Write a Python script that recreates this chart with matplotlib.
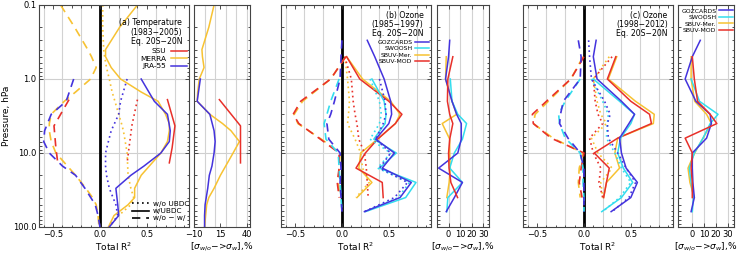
import numpy as np
import matplotlib.pyplot as plt
from matplotlib.lines import Line2D

plt.rcParams['font.family'] = ['DejaVu Sans']

BLUE = '#4433dd'
CYAN = '#33ddee'
YELLOW = '#f7c232'
RED = '#e8302a'

# ---------------- (a) Temperature ----------------
p_merra = [0.1, 0.2, 0.4, 0.5, 0.7, 1, 1.5, 2, 3, 4, 5, 7, 10, 20, 30, 40, 50, 70, 100]
merra_w = [0.40, 0.21, 0.06, 0.06, 0.12, 0.22, 0.44, 0.62, 0.70, 0.74, 0.74, 0.72, 0.65, 0.44, 0.37, 0.37, 0.30, 0.15, 0.09]
merra_wo = [0.03, 0.03, 0.04, 0.05, 0.07, 0.10, 0.13, 0.16, 0.20, 0.23, 0.25, 0.27, 0.29, 0.30, 0.33, 0.36, 0.33, 0.20, 0.10]
merra_d = [-0.42, -0.27, -0.13, -0.09, -0.04, -0.10, -0.26, -0.38, -0.52, -0.54, -0.54, -0.52, -0.47, -0.26, -0.15, -0.08, -0.04, -0.02, -0.01]
merra_pct = [9, 4, -2.5, -2, -0.5, -5, -6.5, -7, 5, 17, 25, 33, 27, 15, 9, 4, 2, 1, 0]

p_jra = [1, 2, 3, 5, 7, 10, 15, 20, 30, 50, 70, 100]
jra_w = [0.44, 0.58, 0.72, 0.75, 0.74, 0.65, 0.47, 0.33, 0.17, 0.19, 0.20, 0.10]
jra_wo = [0.29, 0.22, 0.20, 0.12, 0.09, 0.06, 0.06, 0.07, 0.10, 0.17, 0.19, 0.10]
jra_d = [-0.28, -0.36, -0.52, -0.59, -0.60, -0.54, -0.40, -0.26, -0.16, -0.05, -0.02, 0.0]
jra_pct = [-4, -7, 5, 9, 10, 9, 7, 4.5, 3, 0.5, 0, 0]

p_ssu = [1.9, 4.3, 8.5, 13.6]
ssu_w = [0.72, 0.80, 0.77, 0.74]
ssu_wo = [0.40, 0.34, 0.31, 0.29]
ssu_d = [-0.33, -0.49, -0.47, -0.45]
ssu_pct = [14, 34, 34, 34]

# ---------------- (b) Ozone 1985-1997 ----------------
pb = [0.3, 0.5, 1, 2, 3, 4, 6.5, 10, 16, 25, 40, 62]
b_goz_w = [0.27, 0.35, 0.45, 0.52, 0.53, 0.50, 0.36, 0.56, 0.43, 0.74, 0.62, 0.24]
b_goz_wo = [None, None, 0.40, 0.46, 0.47, 0.44, 0.36, 0.52, 0.40, 0.70, 0.56, 0.24]
b_goz_d = [0.0, -0.01, -0.02, -0.08, -0.12, -0.16, -0.14, -0.02, -0.01, -0.02, -0.01, 0.0]
b_goz_pct = [1, 0, -2.6, 3, 7, 11, 11, 8, -8.6, 12, 5, -2]

b_swo_w = [None, None, 0.32, 0.45, 0.47, 0.46, 0.34, 0.58, 0.40, 0.79, 0.68, 0.25]
b_swo_wo = [None, None, 0.30, 0.40, 0.42, 0.40, 0.30, 0.52, 0.38, 0.72, 0.60, 0.25]
b_swo_d = [None, None, -0.03, -0.12, -0.16, -0.19, -0.17, -0.04, -0.03, -0.02, -0.01, 0.0]
b_swo_pct = [None, None, 1.5, 3, 8, 15.6, 12, 5, 1, 12, -0.6, -1.5]

b_mer_w = [None, 0.05, 0.22, 0.52, 0.62, 0.57, 0.38, 0.20, 0.18, 0.32, 0.16, None]
b_mer_wo = [None, 0.03, 0.06, 0.08, 0.07, 0.06, 0.14, 0.20, 0.22, 0.29, 0.15, None]
b_mer_d = [None, 0.04, -0.12, -0.42, -0.51, -0.47, -0.22, -0.02, -0.03, -0.04, -0.02, None]
b_mer_pct = [None, -2, -2.6, 3, 7, -5.5, 1, 1, 1.5, 0.5, -1.5, None]

b_mod_w = [None, 0.05, 0.19, 0.50, 0.64, 0.57, 0.38, 0.25, 0.15, 0.43, 0.44, None]
b_mod_wo = [None, 0.03, 0.10, 0.12, 0.14, 0.16, 0.18, 0.24, 0.26, 0.27, 0.28, None]
b_mod_d = [None, 0.04, -0.12, -0.44, -0.52, -0.46, -0.23, -0.03, -0.03, -0.05, -0.03, None]
b_mod_pct = [None, 3.7, -0.6, -1, 1, 3.7, 1, 0, 0.4, 2, 7.8, None]

# ---------------- (c) Ozone 1998-2012 ----------------
pc = [0.3, 0.5, 1, 2, 3, 4, 6.3, 10, 16, 25, 40, 62]
c_goz_w = [0.13, 0.10, 0.14, 0.40, 0.54, 0.48, 0.38, 0.40, 0.45, 0.57, 0.50, 0.29]
c_goz_wo = [0.05, 0.06, 0.08, 0.22, 0.28, 0.25, 0.26, 0.36, 0.45, 0.55, 0.48, 0.30]
c_goz_d = [-0.06, -0.03, -0.04, -0.22, -0.25, -0.26, -0.17, -0.04, 0.0, 0.0, 0.0, 0.0]
c_goz_pct = [6.7, 0, -6, 3, 15, 16, 12, 0, 0, 0.5, 1.7, -1]

c_swo_w = [None, None, 0.10, 0.38, 0.54, 0.50, 0.39, 0.36, 0.42, 0.52, 0.40, 0.19]
c_swo_wo = [None, None, 0.08, 0.20, 0.26, 0.25, 0.24, 0.33, 0.40, 0.50, 0.38, 0.20]
c_swo_d = [None, None, -0.04, -0.20, -0.27, -0.26, -0.20, -0.04, -0.01, -0.01, 0.0, 0.0]
c_swo_pct = [None, None, -1, 6, 21.6, 15, 9, 1.7, -2.5, -1, 1, 0]

c_mer_w = [None, 0.35, 0.26, 0.55, 0.75, 0.74, 0.36, 0.33, 0.38, 0.24, 0.21, None]
c_mer_wo = [None, 0.27, 0.10, 0.14, 0.18, 0.24, 0.08, 0.15, 0.30, 0.18, 0.20, None]
c_mer_d = [None, -0.01, -0.14, -0.38, -0.52, -0.54, -0.33, -0.01, -0.05, -0.06, -0.04, None]
c_mer_pct = [None, -1, -1, 2, 12, 16, 9, 2, -3.6, -2, 1.7, None]

c_mod_w = [None, 0.34, 0.25, 0.50, 0.70, 0.72, 0.36, 0.11, 0.27, 0.24, 0.21, None]
c_mod_wo = [None, 0.30, 0.10, 0.12, 0.15, 0.20, 0.06, 0.10, 0.18, 0.16, 0.20, None]
c_mod_d = [None, 0.0, -0.14, -0.40, -0.55, -0.54, -0.35, 0.0, -0.03, -0.05, -0.02, None]
c_mod_pct = [None, 0, 1.7, 4.4, 15, 20.6, -6, 0, -1, 0, 0, None]

YT = [0.1, 1, 10, 100]
YTL = ['0.1', '1.0', '10.0', '100.0']

DOT = (0, (1, 2))
DASH = (0, (5, 3.5))


def clean(p, v):
    pp = [a for a, b in zip(p, v) if b is not None]
    vv = [b for b in v if b is not None]
    return vv, pp


def style(ax):
    ax.set_yscale('log')
    ax.set_ylim(100, 0.1)
    ax.tick_params(which='both', direction='in', top=True, right=True,
                   labelsize=6, pad=2, width=0.6, color='#333333')
    ax.tick_params(which='major', length=3)
    ax.tick_params(which='minor', length=1.8)
    for s in ax.spines.values():
        s.set_linewidth(0.8)
        s.set_color('#444444')
    for yy in [1, 10]:
        ax.axhline(yy, color='#cfcfcf', lw=0.8, zorder=0)


def main_panel(ax, series, left_labels=False):
    style(ax)
    ax.set_xlim(-0.65, 0.95)
    for gx in [-0.6, -0.4, -0.2, 0.2, 0.4, 0.6, 0.8]:
        ax.axvline(gx, color='#d2d2d2', lw=0.8, zorder=0)
    ax.axvline(0, color='black', lw=2.0, zorder=1)
    for p, w, wo, d, col in series:
        x, y = clean(p, w)
        ax.plot(x, y, color=col, lw=1.1)
        x, y = clean(p, wo)
        ax.plot(x, y, color=col, lw=1.2, ls=DOT)
        x, y = clean(p, d)
        ax.plot(x, y, color=col, lw=1.2, ls=DASH)
    ax.set_xticks([-0.5, 0.0, 0.5])
    ax.set_xticklabels(['\u22120.5', '0.0', '0.5'])
    ax.xaxis.set_minor_locator(plt.MultipleLocator(0.1))
    ax.set_yticks(YT)
    if left_labels:
        ax.set_yticklabels(YTL)
    else:
        ax.set_yticklabels([])
    ax.set_xlabel('Total R$^2$', fontsize=6.5, labelpad=1)


def side_panel(ax, series, xlim, ticks, grid):
    style(ax)
    ax.set_xlim(*xlim)
    for gx in grid:
        ax.axvline(gx, color='#d2d2d2', lw=0.8, zorder=0)
    for p, v, col in series:
        x, y = clean(p, v)
        ax.plot(x, y, color=col, lw=1.1)
    ax.set_xticks(ticks)
    ax.set_xticklabels([str(t).replace('-', '\u2212') for t in ticks])
    ax.set_yticks(YT)
    ax.set_yticklabels([])
    ax.set_xlabel('[$\\sigma_{w/o}$\u2212>$\\sigma_{w}$],%', fontsize=6.5, labelpad=1)


fig = plt.figure(figsize=(7.37, 2.56), dpi=100)
bot = 1 - 227 / 256
hgt = 222 / 256


def axes_px(x0, x1):
    return fig.add_axes([x0 / 737, bot, (x1 - x0) / 737, hgt])


ax_a = axes_px(39, 189)
ax_as = axes_px(194, 250)
ax_b = axes_px(281, 431)
ax_bs = axes_px(437, 489)
ax_c = axes_px(523, 673)
ax_cs = axes_px(678, 734)

# panel a
main_panel(ax_a, [
    (p_merra, merra_w, merra_wo, merra_d, YELLOW),
    (p_jra, jra_w, jra_wo, jra_d, BLUE),
    (p_ssu, ssu_w, ssu_wo, ssu_d, RED),
], left_labels=True)
ax_a.set_ylabel('Pressure, hPa', fontsize=6.5, labelpad=1)
side_panel(ax_as, [(p_merra, merra_pct, YELLOW), (p_jra, jra_pct, BLUE), (p_ssu, ssu_pct, RED)],
           (-10, 43), [-10, 15, 40], [0, 10, 20, 30, 40])

ax_a.text(0.955, 0.94, '(a) Temperature\n(1983\u22122005)\nEq. 20S\u221220N', transform=ax_a.transAxes,
          ha='right', va='top', fontsize=5.6, multialignment='right', linespacing=1.05)
h = [Line2D([], [], color=c, lw=1.1) for c in (RED, YELLOW, BLUE)]
ax_a.legend(h, ['SSU', 'MERRA', 'JRA-55'], loc='upper right', bbox_to_anchor=(0.99, 0.805),
            frameon=False, markerfirst=False, fontsize=5.3, handlelength=2.3,
            handletextpad=0.6, labelspacing=0.18, borderpad=0, borderaxespad=0)
hs = [Line2D([], [], color='black', lw=1.2, ls=DOT), Line2D([], [], color='black', lw=1.2),
      Line2D([], [], color='black', lw=1.2, ls=DASH)]
leg = ax_a.legend(hs, ['w/o UBDC', 'w/UBDC', 'w/o \u2212 w/'], loc='lower right', bbox_to_anchor=(1.0, 0.025),
                  frameon=False, fontsize=5.3, handlelength=2.3, handletextpad=0.5,
                  labelspacing=0.15, borderpad=0, borderaxespad=0)
ax_a.add_artist(leg)
ax_a.legend(h, ['SSU', 'MERRA', 'JRA-55'], loc='upper right', bbox_to_anchor=(0.99, 0.805),
            frameon=False, markerfirst=False, fontsize=5.3, handlelength=2.3,
            handletextpad=0.6, labelspacing=0.18, borderpad=0, borderaxespad=0)

# panel b
main_panel(ax_b, [
    (pb, b_mer_w, b_mer_wo, b_mer_d, YELLOW),
    (pb, b_mod_w, b_mod_wo, b_mod_d, RED),
    (pb, b_swo_w, b_swo_wo, b_swo_d, CYAN),
    (pb, b_goz_w, b_goz_wo, b_goz_d, BLUE),
])
side_panel(ax_bs, [(pb, b_mer_pct, YELLOW), (pb, b_swo_pct, CYAN), (pb, b_goz_pct, BLUE), (pb, b_mod_pct, RED)],
           (-10, 35), [0, 10, 20, 30], [0, 10, 20, 30])
ax_b.text(0.95, 0.975, '(b) Ozone\n(1985\u22121997)\nEq. 20S\u221220N', transform=ax_b.transAxes,
          ha='right', va='top', fontsize=5.6, multialignment='right', linespacing=1.05)
ho = [Line2D([], [], color=c, lw=1.1) for c in (BLUE, CYAN, YELLOW, RED)]
lab_o = ['GOZCARDS', 'SWOOSH', 'SBUV-Mer.', 'SBUV-MOD']
ax_b.legend(ho, lab_o, loc='upper right', bbox_to_anchor=(0.99, 0.845),
            frameon=False, markerfirst=False, fontsize=4.4, handlelength=2.3,
            handletextpad=0.5, labelspacing=0.2, borderpad=0, borderaxespad=0)

# panel c
main_panel(ax_c, [
    (pc, c_mer_w, c_mer_wo, c_mer_d, YELLOW),
    (pc, c_mod_w, c_mod_wo, c_mod_d, RED),
    (pc, c_swo_w, c_swo_wo, c_swo_d, CYAN),
    (pc, c_goz_w, c_goz_wo, c_goz_d, BLUE),
])
side_panel(ax_cs, [(pc, c_mer_pct, YELLOW), (pc, c_swo_pct, CYAN), (pc, c_goz_pct, BLUE), (pc, c_mod_pct, RED)],
           (-12, 35), [0, 10, 20, 30], [0, 10, 20, 30])
ax_c.text(0.965, 0.975, '(c) Ozone\n(1998\u22122012)\nEq. 20S\u221220N', transform=ax_c.transAxes,
          ha='right', va='top', fontsize=5.6, multialignment='right', linespacing=1.05)
ax_cs.legend(ho, lab_o, loc='upper right', bbox_to_anchor=(0.99, 0.985),
             frameon=False, markerfirst=False, fontsize=4.4, handlelength=2.3,
             handletextpad=0.5, labelspacing=0.2, borderpad=0, borderaxespad=0)

fig.savefig('out.png', dpi=100)
